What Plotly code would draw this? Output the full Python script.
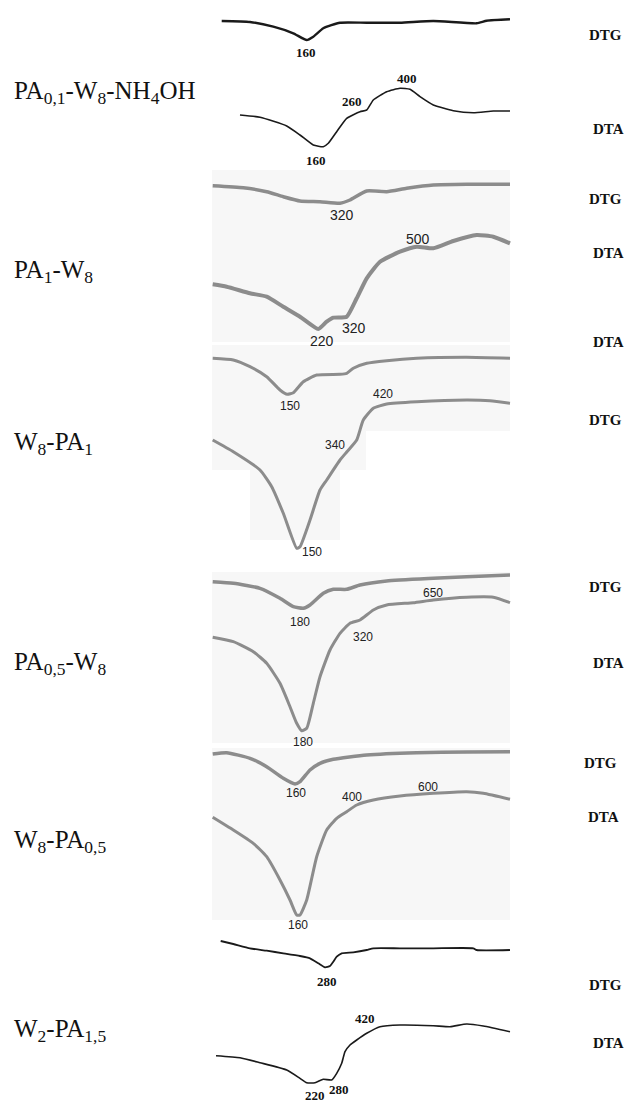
import plotly.graph_objects as go

# ---------------- data (page units) ----------------
# Panel 1: PA0,1-W8-NH4OH
p1_dtg_x = [221.7, 250, 273.3, 293.3, 306.7, 313.3, 323.3, 340, 366.7, 400, 433.3, 476.7, 486.7, 510]
p1_dtg_y = [21, 22, 26.7, 33.3, 40, 36.7, 28.3, 22.7, 22.7, 22.7, 21, 23.3, 20.7, 19.3]
p1_dta_x = [240, 260, 286.7, 300, 313.3, 323.3, 328.3, 336.7, 346.7, 360, 366.7, 373.3, 386.7, 400, 410, 420, 433.3, 453.3, 473.3, 493.3, 510]
p1_dta_y = [115, 117.3, 126, 135, 145, 146.7, 143.3, 131.7, 118.3, 111.7, 110, 100, 91.7, 88.3, 89.3, 96.7, 105, 110.7, 112.7, 111, 111]

# Panel 2: PA1-W8
p2_dtg_x = [212.7, 243.3, 266.7, 283.3, 300, 320, 340, 350, 366.7, 386.7, 406.7, 433.3, 466.7, 510]
p2_dtg_y = [185.7, 187.7, 191.7, 196.7, 201, 201.7, 203.3, 200, 191, 191.7, 188.3, 185, 184.3, 184.3]
p2_dta_x = [212.7, 226.7, 250, 266.7, 283.3, 300, 318.3, 326.7, 333.3, 346.7, 356.7, 366.7, 380, 400, 416.7, 433.3, 453.3, 476.7, 493.3, 510]
p2_dta_y = [284.3, 286.7, 293.3, 296.7, 306.7, 316.7, 329, 321.7, 317.7, 316.7, 298.3, 278.3, 261.7, 251.7, 246.7, 248.3, 241, 235, 236.7, 243.3]

# Panel 3: W8-PA1
p3_dtg_x = [212.7, 233.3, 250, 266.7, 280, 287.3, 293.3, 303.3, 316.7, 340, 346.7, 353.3, 366.7, 386.7, 416.7, 466.7, 510]
p3_dtg_y = [358.3, 360, 366.7, 376.7, 390, 394.3, 392.7, 381.7, 375, 374.3, 373.3, 368.3, 363.3, 360.7, 358.3, 357.3, 358.3]
p3_dta_x = [212.7, 233.3, 260, 271.7, 283.3, 296.7, 300, 310, 320, 326.7, 340, 346.7, 356.7, 363.3, 373.3, 386.7, 416.7, 466.7, 490, 510]
p3_dta_y = [440, 451.7, 470, 486.7, 513.3, 548.3, 546.7, 520, 490, 480, 460, 452, 440, 420, 408.3, 404, 401.7, 400, 400.7, 403.3]

# Panel 4: PA0,5-W8
p4_dtg_x = [212.7, 233.3, 260, 280, 293.3, 303.3, 310, 323.3, 333.3, 346.7, 360, 386.7, 433.3, 466.7, 510]
p4_dtg_y = [581.7, 583.3, 588.3, 598.3, 606.7, 608.3, 605, 593.3, 589.3, 589.3, 585, 581, 578.3, 576.7, 575]
p4_dta_x = [212.7, 233.3, 253.3, 266.7, 280, 290, 296.7, 301.7, 306.7, 313.3, 320, 330, 340, 350, 360, 373.3, 386.7, 413.3, 433.3, 466.7, 493.3, 510]
p4_dta_y = [637.3, 641.7, 651.7, 663.3, 683.3, 706.7, 723.3, 730.7, 728.3, 703.3, 676.7, 650, 633.3, 623.3, 620, 610, 605, 602.7, 600, 597.3, 597.3, 602.7]

# Panel 5: W8-PA0,5
p5_dtg_x = [212.7, 226.7, 250, 266.7, 283.3, 295, 300, 310, 320, 333.3, 366.7, 416.7, 466.7, 510]
p5_dtg_y = [754, 752.7, 758.3, 766.7, 778.3, 784, 781.7, 770, 763.3, 759.3, 755, 752.7, 752, 751.7]
p5_dta_x = [212.7, 233.3, 253.3, 266.7, 280, 290, 296.7, 300, 306.7, 316.7, 326.7, 336.7, 346.7, 356.7, 373.3, 400, 433.3, 466.7, 483.3, 510]
p5_dta_y = [817.3, 830, 843.3, 856.7, 880, 900, 915, 915, 900, 856.7, 830, 818.3, 811.7, 805, 800, 796, 793.3, 791.7, 793.3, 799.3]

# Panel 6: W2-PA1,5
p6_dtg_x = [220.7, 233.3, 250, 266.7, 283.3, 300, 310, 318.3, 325, 330, 333.3, 336.7, 341.7, 353.3, 366.7, 373.3, 400, 433.3, 473.3, 476.7, 510]
p6_dtg_y = [941, 944, 948.3, 950.7, 953.3, 956, 958.3, 963.3, 967.3, 966, 961.7, 956.7, 953.3, 952.3, 950, 948.3, 948.3, 948.3, 948.3, 950, 950]
p6_dta_x = [216, 240, 260, 286.7, 300, 306.7, 315, 323.3, 331.7, 336.7, 341.7, 345, 350, 356.7, 366.7, 380, 400, 433.3, 450, 466.7, 483.3, 510]
p6_dta_y = [1055.7, 1057.7, 1062.7, 1070, 1078.3, 1082.7, 1082.7, 1079.3, 1080, 1073.3, 1063.3, 1051.7, 1045, 1040, 1033.3, 1026.7, 1025, 1025.7, 1026.7, 1024, 1026, 1031.7]

# sample names (left column)
sample_names = ["PA<sub>0,1</sub>-W<sub>8</sub>-NH<sub>4</sub>OH", "PA<sub>1</sub>-W<sub>8</sub>",
                "W<sub>8</sub>-PA<sub>1</sub>", "PA<sub>0,5</sub>-W<sub>8</sub>",
                "W<sub>8</sub>-PA<sub>0,5</sub>", "W<sub>2</sub>-PA<sub>1,5</sub>"]
sample_y = [92, 271, 443, 663, 841, 1030]

# curve-type tags (right column)
tag_text = ["DTG", "DTA", "DTG", "DTA", "DTA", "DTG", "DTG", "DTA", "DTG", "DTA", "DTG", "DTA"]
tag_x = [605, 608, 605, 608, 608, 605, 605, 608, 600, 603, 605, 608]
tag_y = [35, 129, 199, 253, 342, 420, 587, 663, 763, 817, 985, 1043]

# temperature labels (°C) at peaks
temp_text = ["160", "160", "260", "400",
             "320", "220", "320", "500",
             "150", "150", "340", "420",
             "180", "180", "320", "650",
             "160", "160", "400", "600",
             "280", "220", "280", "420"]
temp_x = [306, 316, 351.7, 406.7,
          341.7, 321.7, 354, 418.3,
          290, 311.7, 335, 383.3,
          300, 302.7, 363.3, 432.7,
          296, 298.3, 351.7, 428.3,
          326.7, 315, 339.3, 365]
temp_y = [52.7, 160, 101.7, 78.3,
          215, 341, 328.3, 239,
          406, 551.7, 445, 394,
          621.7, 741.7, 636.7, 592.7,
          793.3, 925, 797.3, 787.3,
          981.7, 1095, 1089, 1018.3]
temp_panel = [1, 1, 1, 1, 2, 2, 2, 2, 3, 3, 3, 3, 4, 4, 4, 4, 5, 5, 5, 5, 6, 6, 6, 6]

W, H = 626, 1103

fig = go.Figure()

black = "#1a1a1a"
grey = "#8c8c8c"
curves = [
    (p1_dtg_x, p1_dtg_y, black, 2.4),
    (p1_dta_x, p1_dta_y, black, 1.6),
    (p2_dtg_x, p2_dtg_y, grey, 3.5),
    (p2_dta_x, p2_dta_y, grey, 4.0),
    (p3_dtg_x, p3_dtg_y, grey, 3.0),
    (p3_dta_x, p3_dta_y, grey, 3.0),
    (p4_dtg_x, p4_dtg_y, grey, 3.5),
    (p4_dta_x, p4_dta_y, grey, 3.0),
    (p5_dtg_x, p5_dtg_y, grey, 3.5),
    (p5_dta_x, p5_dta_y, grey, 3.0),
    (p6_dtg_x, p6_dtg_y, black, 1.8),
    (p6_dta_x, p6_dta_y, black, 1.6),
]
for xs, ys, c, w in curves:
    fig.add_trace(go.Scatter(x=xs, y=ys, mode="lines",
                             line=dict(color=c, width=w, shape="spline", smoothing=0.5),
                             hoverinfo="skip", showlegend=False))

# faint scanned backgrounds behind the grey panels
bg = "#f7f7f7"
shapes = [
    dict(x0=212, x1=510, y0=170, y1=342),
    dict(x0=212, x1=510, y0=345, y1=431),
    dict(x0=212, x1=366, y0=431, y1=470),
    dict(x0=250, x1=340, y0=470, y1=540),
    dict(x0=212, x1=510, y0=572, y1=743),
    dict(x0=212, x1=510, y0=748, y1=920),
]
fig.update_layout(shapes=[dict(type="rect", xref="x", yref="y", layer="below",
                               fillcolor=bg, line=dict(width=0), **s) for s in shapes])

ann = []
for t, y in zip(sample_names, sample_y):
    ann.append(dict(x=12, y=y, xref="x", yref="y", text=t, showarrow=False,
                    xanchor="left", yanchor="middle",
                    font=dict(family="Liberation Serif", size=25, color="#111")))
for t, x, y in zip(tag_text, tag_x, tag_y):
    ann.append(dict(x=x, y=y, xref="x", yref="y", text="<b>" + t + "</b>", showarrow=False,
                    xanchor="center", yanchor="middle",
                    font=dict(family="Liberation Serif", size=15, color="#111")))
for t, x, y, p in zip(temp_text, temp_x, temp_y, temp_panel):
    if p in (1, 6):
        f = dict(family="Liberation Serif", size=13, color="#111")
        t = "<b>" + t + "</b>"
    else:
        f = dict(family="Liberation Sans", size=12 if p != 2 else 14, color="#222")
    ann.append(dict(x=x, y=y, xref="x", yref="y", text=t, showarrow=False,
                    xanchor="center", yanchor="middle", font=f))

fig.update_layout(
    width=W, height=H,
    margin=dict(l=0, r=0, t=0, b=0),
    paper_bgcolor="white", plot_bgcolor="white",
    xaxis=dict(range=[0, W], visible=False, fixedrange=True),
    yaxis=dict(range=[H, 0], visible=False, fixedrange=True),
    annotations=ann,
)

fig.write_html("out.html")
